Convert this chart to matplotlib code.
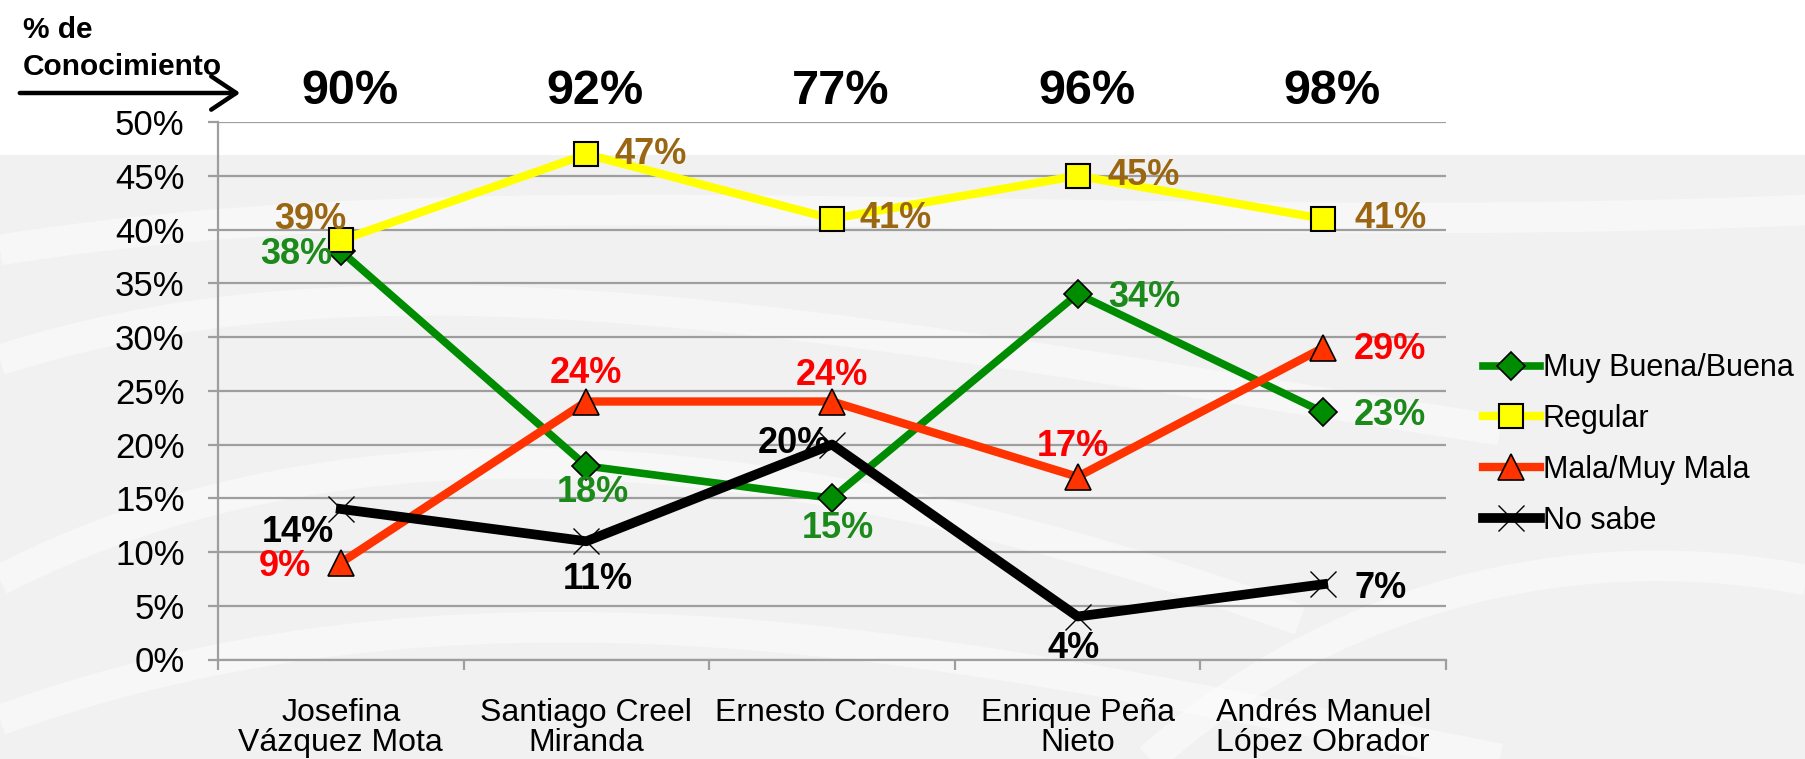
import matplotlib
matplotlib.use("Agg")
import matplotlib.pyplot as plt
from matplotlib.path import Path
from matplotlib.patches import PathPatch, Rectangle, FancyArrowPatch
from matplotlib.ticker import FixedLocator

plt.rcParams['font.family'] = ['Liberation Sans', 'DejaVu Sans']

# ==========================================
# datos
# ==========================================
candidatos = ['Josefina\nVázquez Mota', 'Santiago Creel\nMiranda', 'Ernesto Cordero',
              'Enrique Peña\nNieto', 'Andrés Manuel\nLópez Obrador']
conocimiento = [90, 92, 77, 96, 98]

muy_buena = [38, 18, 15, 34, 23]
regular = [39, 47, 41, 45, 41]
mala = [9, 24, 24, 17, 29]
no_sabe = [14, 11, 20, 4, 7]

W, H = 1806, 759
fig = plt.figure(figsize=(W / 100, H / 100), dpi=100)
fig.patch.set_facecolor('white')

# --- fondo: gris con ondas blancas suaves ---
bg = fig.add_axes([0, 0, 1, 1], zorder=-10)
bg.set_xlim(0, W)
bg.set_ylim(H, 0)
bg.axis('off')
bg.add_patch(Rectangle((0, 155), W, H - 155, color='#f1f1f1', lw=0))
ondas = [
    [(0, 250), (500, 170), (1100, 240), (1806, 210)],
    [(0, 360), (400, 230), (900, 340), (1500, 430)],
    [(0, 580), (350, 400), (800, 440), (1300, 620)],
    [(0, 720), (500, 540), (1000, 660), (1500, 759)],
    [(1150, 759), (1350, 580), (1600, 540), (1806, 580)],
]
for pts in ondas:
    p = Path(pts, [Path.MOVETO, Path.CURVE4, Path.CURVE4, Path.CURVE4])
    bg.add_patch(PathPatch(p, fill=False, ec='white', lw=22, alpha=0.45))

ax = fig.add_axes([218 / W, 1 - 659.5 / H, (1446 - 218) / W, 537.5 / H])
ax.set_facecolor('none')
x = list(range(len(candidatos)))

gris = '#9e9e9e'
ax.set_xlim(-0.5, len(candidatos) - 0.5)
ax.set_ylim(0, 50)
ax.set_yticks(range(0, 51, 5))
ax.set_yticklabels([f'{v}%' for v in range(0, 51, 5)], fontsize=25)
ax.grid(axis='y', color=gris, lw=1.6, zorder=0)
ax.tick_params(axis='y', length=7, width=1.6, color=gris, pad=17)
for s in ['top', 'right']:
    ax.spines[s].set_visible(False)
for s in ['left', 'bottom']:
    ax.spines[s].set_color(gris)
    ax.spines[s].set_linewidth(1.6)

ax.set_xticks(x)
ax.set_xticklabels(candidatos, fontsize=23)
for t in ax.get_xticklabels():
    t.set_linespacing(1.0)
ax.tick_params(axis='x', length=0, pad=28)
ax.xaxis.set_minor_locator(FixedLocator([i - 0.5 for i in range(len(candidatos) + 1)]))
ax.tick_params(axis='x', which='minor', length=7, width=1.6, color=gris)

# series
l1, = ax.plot(x, muy_buena, color='#008c00', lw=5.5, marker='D', ms=14,
              mfc='#008c00', mec='black', mew=1.2, label='Muy Buena/Buena', zorder=3)
l2, = ax.plot(x, regular, color='#ffff00', lw=6, marker='s', ms=17,
              mfc='#ffff00', mec='black', mew=1.5, label='Regular', zorder=3)
l3, = ax.plot(x, mala, color='#ff3300', lw=6, marker='^', ms=19,
              mfc='#ff3300', mec='black', mew=1.2, label='Mala/Muy Mala', zorder=4)
l4, = ax.plot(x, no_sabe, color='black', lw=7, marker='x', ms=19,
              mew=1.0, label='No sabe', zorder=5)

# etiquetas de datos (dx, dy en pixeles, alineacion)
pos_mb = [(-8, -3, 'right'), (6, -26, 'center'), (6, -30, 'center'), (31, -3, 'left'), (31, -3, 'left')]
pos_rg = [(6, 21, 'right'), (28, 0, 'left'), (28, 0, 'left'), (30, 0, 'left'), (31, 0, 'left')]
pos_ml = [(-30, -4, 'right'), (0, 28, 'center'), (0, 26, 'center'), (-5, 30, 'center'), (31, -2, 'left')]
pos_ns = [(-7, -24, 'right'), (11, -38, 'center'), (-2, 1, 'right'), (-4, -32, 'center'), (31, -4, 'left')]

def etiquetas(vals, pos, color):
    for i, (v, (dx, dy, ha)) in enumerate(zip(vals, pos)):
        ax.annotate(f'{v}%', (i, v), xytext=(dx * 0.72, dy * 0.72), textcoords='offset points',
                    ha=ha, va='center', fontsize=26, fontweight='bold', color=color, zorder=6)

etiquetas(muy_buena, pos_mb, '#1b8a1b')
etiquetas(regular, pos_rg, '#9a6612')
etiquetas(mala, pos_ml, '#ff0000')
etiquetas(no_sabe, pos_ns, 'black')

# conocimiento arriba
for i, c in enumerate(conocimiento):
    ax.annotate(f'{c}%', (i, (659.5 - 104) / 537.5), xycoords=ax.get_xaxis_transform(),
                xytext=(9 * 0.72, 0), textcoords='offset points',
                ha='center', va='baseline', fontsize=35, fontweight='bold', annotation_clip=False)

fig.text(23 / W, 1 - 38 / H, '% de', fontsize=21.5, fontweight='bold', va='baseline')
fig.text(23 / W, 1 - 75 / H, 'Conocimiento', fontsize=21.5, fontweight='bold', va='baseline')
fig.add_artist(FancyArrowPatch(
    (17 / W, 1 - 93 / H), (243 / W, 1 - 93 / H), transform=fig.transFigure,
    arrowstyle='->,head_length=0.9,head_width=0.6', lw=3.2, color='black', mutation_scale=20))

leg = ax.legend(handles=[l1, l2, l3, l4], loc='center left',
                bbox_to_anchor=(1483 / W, 1 - 444.5 / H), bbox_transform=fig.transFigure,
                frameon=False, fontsize=22, handlelength=1.86, handletextpad=0.1,
                labelspacing=0.68, borderpad=0, borderaxespad=0)

fig.savefig('out.png', dpi=100)
